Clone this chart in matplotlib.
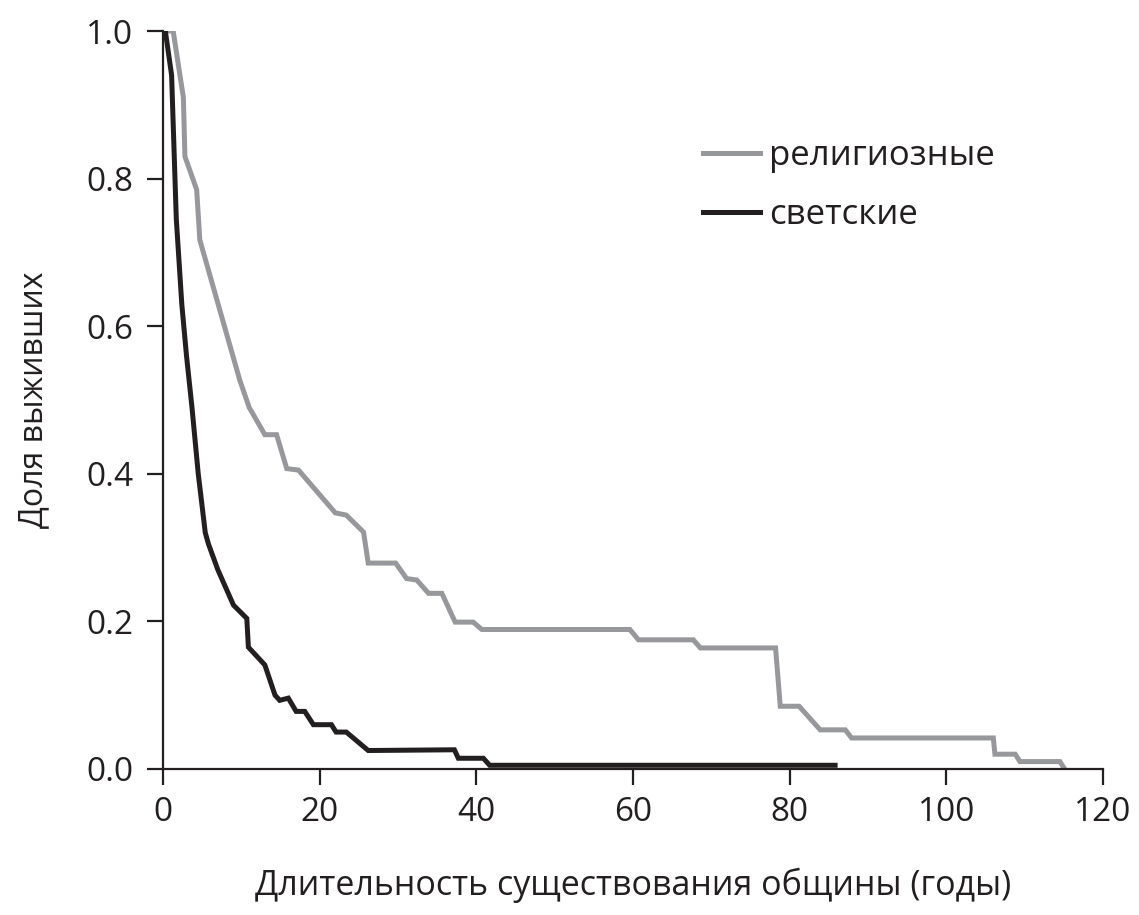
import matplotlib
matplotlib.use("Agg")
import matplotlib.pyplot as plt

plt.rcParams['font.family'] = ['Open Sans', 'DejaVu Sans']

# Survival curves: years since founding vs. share of communities still existing
religious_years = [0, 1.3, 2.6, 2.8, 4.3, 4.7, 9.8, 11.0, 13.0, 14.5, 15.8, 17.3, 22.0,
                   23.4, 25.6, 26.2, 29.7, 31.1, 32.4, 33.9, 35.6, 37.3, 39.6, 40.7,
                   59.6, 60.7, 67.7, 68.6, 78.2, 78.8, 81.2, 83.9, 87.1, 87.9, 106.0,
                   106.2, 108.8, 109.4, 114.5, 115.1]
religious_share = [1.0, 1.0, 0.91, 0.83, 0.785, 0.717, 0.527, 0.49, 0.453, 0.453, 0.407,
                   0.405, 0.347, 0.344, 0.321, 0.279, 0.279, 0.258, 0.256, 0.238, 0.238,
                   0.199, 0.199, 0.189, 0.189, 0.175, 0.175, 0.164, 0.164, 0.085, 0.085,
                   0.053, 0.053, 0.042, 0.042, 0.020, 0.020, 0.010, 0.010, 0.0]

secular_years = [0, 0.3, 1.1, 1.5, 1.7, 2.4, 3.0, 3.7, 4.5, 5.4, 5.8, 7.0, 9.0, 10.7,
                 10.9, 13.0, 14.3, 14.9, 16.0, 17.0, 18.1, 19.2, 21.5, 22.1, 23.4,
                 26.2, 37.2, 37.7, 40.9, 41.7, 85.8]
secular_share = [1.0, 1.0, 0.94, 0.81, 0.745, 0.63, 0.56, 0.49, 0.40, 0.32, 0.305, 0.27,
                 0.222, 0.204, 0.165, 0.141, 0.10, 0.093, 0.096, 0.078, 0.078, 0.06,
                 0.06, 0.05, 0.05, 0.025, 0.026, 0.0145, 0.0145, 0.005, 0.005]

x_ticks = [0, 20, 40, 60, 80, 100, 120]
y_ticks = [0.0, 0.2, 0.4, 0.6, 0.8, 1.0]
y_tick_labels = ['0.0', '0.2', '0.4', '0.6', '0.8', '1.0']

series_labels = ['религиозные', 'светские']
x_label = 'Длительность существования общины (годы)'
y_label = 'Доля выживших'

GRAY = '#97989b'
BLACK = '#231f20'

fig = plt.figure(figsize=(11.39, 9.15), dpi=100)
ax = fig.add_axes([0.1431, 0.1596, 0.8253, 0.8065])

ax.plot(religious_years, religious_share, color=GRAY, lw=3.6,
        solid_joinstyle='miter', label=series_labels[0])
ax.plot(secular_years, secular_share, color=BLACK, lw=3.6,
        solid_joinstyle='miter', label=series_labels[1])

ax.set_xlim(0, 120)
ax.set_ylim(0, 1.0)
ax.set_xticks(x_ticks)
ax.set_yticks(y_ticks)
ax.set_yticklabels(y_tick_labels)

for side in ('top', 'right'):
    ax.spines[side].set_visible(False)
for side in ('left', 'bottom'):
    ax.spines[side].set_color(BLACK)
    ax.spines[side].set_linewidth(1.6)

ax.tick_params(axis='both', direction='out', length=11.5, width=1.6,
               color=BLACK, labelsize=24, labelcolor=BLACK, pad=8)
ax.tick_params(axis='y', pad=10)

ax.set_xlabel(x_label, fontsize=24.5, color=BLACK, labelpad=28)
ax.set_ylabel(y_label, fontsize=23, color=BLACK, labelpad=26)

leg = ax.legend(loc='upper left', bbox_to_anchor=(0.5745, 0.8540),
                frameon=False, fontsize=25, handlelength=1.65,
                handletextpad=0.25, labelspacing=0.72, borderpad=0,
                borderaxespad=0)
for t in leg.get_texts():
    t.set_color(BLACK)

fig.savefig('out.png', dpi=100)
